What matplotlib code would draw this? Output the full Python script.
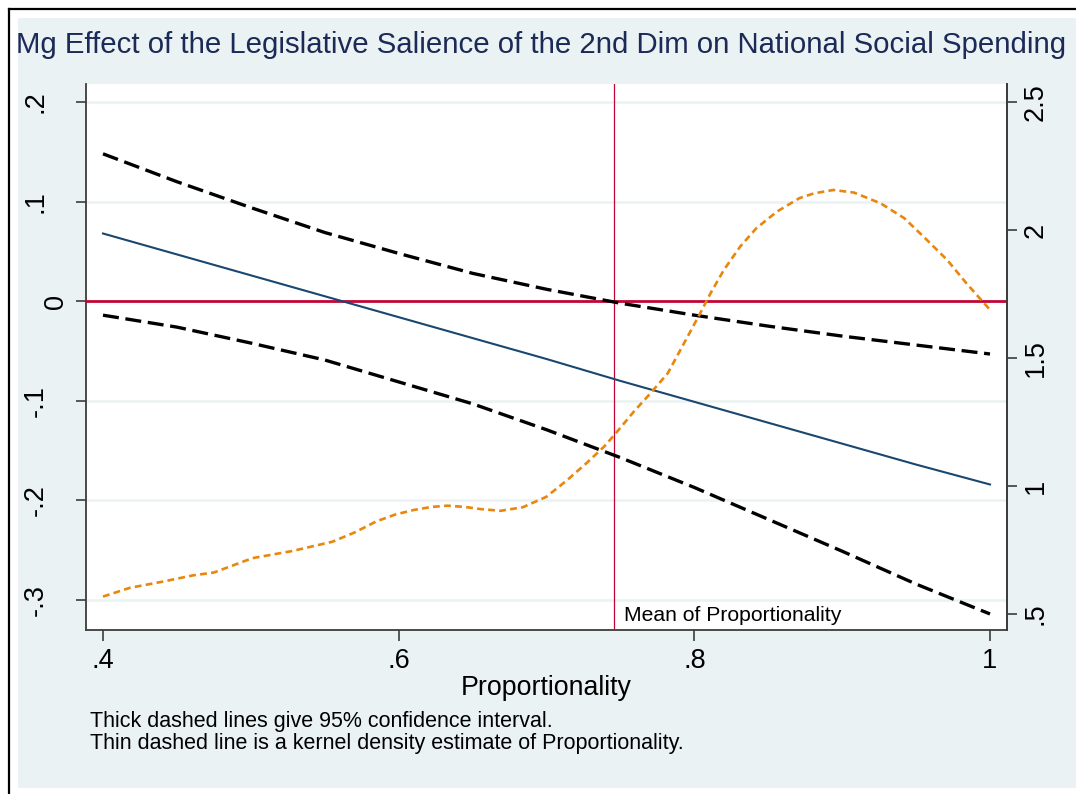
import matplotlib
matplotlib.use("Agg")
import matplotlib.pyplot as plt
import matplotlib.transforms as mtransforms
from matplotlib.patches import Rectangle
from matplotlib.lines import Line2D

plt.rcParams["font.family"] = ["Liberation Sans", "DejaVu Sans"]

# =========================
# DATA
# =========================
prop_grid = [0.40, 0.45, 0.50, 0.55, 0.60, 0.65, 0.70, 0.75, 0.80, 0.85, 0.90, 0.95, 1.00]
me_est = [0.068, 0.047, 0.026, 0.005, -0.016, -0.037, -0.058, -0.080, -0.101, -0.122, -0.143, -0.164, -0.184]
ci_upper = [0.148, 0.120, 0.094, 0.069, 0.048, 0.028, 0.012, -0.002, -0.014, -0.025, -0.035, -0.044, -0.053]
ci_lower = [-0.014, -0.026, -0.042, -0.059, -0.081, -0.103, -0.129, -0.157, -0.187, -0.219, -0.251, -0.284, -0.314]

kde_x = [0.400, 0.418, 0.440, 0.461, 0.475, 0.488, 0.501, 0.528, 0.555, 0.570, 0.585,
         0.598, 0.610, 0.622, 0.633, 0.645, 0.655, 0.669, 0.684, 0.700, 0.714, 0.727,
         0.739, 0.746, 0.759, 0.770, 0.782, 0.790, 0.797, 0.804, 0.811, 0.820, 0.831,
         0.842, 0.856, 0.871, 0.881, 0.894, 0.908, 0.926, 0.942, 0.955, 0.971, 0.984, 1.000]
kde_y = [0.568, 0.602, 0.626, 0.651, 0.662, 0.690, 0.718, 0.746, 0.782, 0.818, 0.862,
         0.889, 0.906, 0.918, 0.923, 0.918, 0.910, 0.903, 0.917, 0.958, 1.023, 1.089,
         1.154, 1.200, 1.290, 1.360, 1.440, 1.525, 1.600, 1.675, 1.753, 1.844, 1.935,
         2.007, 2.072, 2.124, 2.143, 2.156, 2.146, 2.104, 2.046, 1.974, 1.883, 1.792, 1.688]

prop_mean = 0.7457

left_ticks = [-0.3, -0.2, -0.1, 0, 0.1, 0.2]
left_labels = ["-.3", "-.2", "-.1", "0", ".1", ".2"]
right_ticks = [0.5, 1, 1.5, 2, 2.5]
right_labels = [".5", "1", "1.5", "2", "2.5"]
x_ticks = [0.4, 0.6, 0.8, 1.0]
x_labels = [".4", ".6", ".8", "1"]

# =========================
# THEME
# =========================
BG = "#eaf2f3"
NAVY = "#1a476f"
ORANGE = "#e8870e"
RED = "#c10534"
SPINE = "#3c3c3c"
TITLE = "#1b2a56"

fig = plt.figure(figsize=(10.76, 7.94), dpi=100)
fig.patch.set_facecolor("white")

# outer frame + light background
fig.add_artist(Rectangle((18 / 1076, 6 / 794), 1, (788 - 18) / 794,
                         transform=fig.transFigure, facecolor=BG, edgecolor="none", zorder=0))
fig.add_artist(Line2D([9 / 1076, 9 / 1076], [0, 1 - 9 / 794], transform=fig.transFigure,
                      color="black", lw=1.6, zorder=1))
fig.add_artist(Line2D([9 / 1076, 1], [1 - 9 / 794, 1 - 9 / 794], transform=fig.transFigure,
                      color="black", lw=1.6, zorder=1))

ax = fig.add_axes([86 / 1076, 164 / 794, 921 / 1076, 546 / 794])
ax.set_facecolor("white")
ax.set_xlim(0.3885, 1.0115)
ax.set_ylim(-0.3301, 0.2181)

# grid
for t in left_ticks:
    if t != 0:
        ax.axhline(t, color=BG, lw=1.8, zorder=1)

ax.axhline(0, color=RED, lw=2.0, zorder=3)
ax.axvline(prop_mean, color=RED, lw=0.9, zorder=3)

ax.plot(prop_grid, me_est, color=NAVY, lw=1.5, zorder=4)
ax.plot(prop_grid, ci_upper, color="black", lw=2.4, dashes=(4.8, 2.0), zorder=4)
ax.plot(prop_grid, ci_lower, color="black", lw=2.4, dashes=(4.8, 2.0), zorder=4)

ax.annotate("Mean of Proportionality", xy=(prop_mean, -0.3153), xytext=(7, 0),
            textcoords="offset points", fontsize=15.2, ha="left", va="center", zorder=5)

ax.set_xticks(x_ticks, x_labels)
ax.set_yticks(left_ticks, left_labels)
ax.tick_params(axis="x", length=8, width=1.2, color=SPINE, labelsize=19.5, pad=5)
ax.tick_params(axis="y", length=7.5, width=1.2, color=SPINE, labelsize=19.5, pad=29,
               labelrotation=90)
for lab in ax.get_yticklabels():
    lab.set_va("center")
    lab.set_ha("center")
ax.set_xlabel("Proportionality", fontsize=19.3, labelpad=1)

for side in ["left", "bottom", "right"]:
    ax.spines[side].set_color(SPINE)
    ax.spines[side].set_linewidth(1.3)
ax.spines["top"].set_visible(False)

# density on right axis
ax2 = ax.twinx()
ax2.set_ylim(0.4375, 2.570)
ax2.plot(kde_x, kde_y, color=ORANGE, lw=1.9, dashes=(2.6, 1.6), zorder=4)
ax2.set_yticks(right_ticks, right_labels)
ax2.tick_params(axis="y", length=7.5, width=1.2, color=SPINE, labelsize=19.5, pad=4,
                labelrotation=90)
for lab in ax2.get_yticklabels():
    lab.set_va("center")
for side in ["left", "bottom", "top"]:
    ax2.spines[side].set_visible(False)
ax2.spines["right"].set_color(SPINE)
ax2.spines["right"].set_linewidth(1.3)

# the "0" label sits further right in the original
fig.canvas.draw()
for tick in ax.yaxis.get_major_ticks():
    if tick.label1.get_text() == "0":
        tick.label1.set_transform(tick.label1.get_transform()
                                  + mtransforms.ScaledTranslation(0.21, 0, fig.dpi_scale_trans))

fig.text(0.503, 1 - 45 / 794, "Mg Effect of the Legislative Salience of the 2nd Dim on National Social Spending",
         fontsize=21.2, color=TITLE, ha="center", va="center")
fig.text(90 / 1076, 1 - 722 / 794, "Thick dashed lines give 95% confidence interval.",
         fontsize=15.5, ha="left", va="center")
fig.text(90 / 1076, 1 - 743 / 794, "Thin dashed line is a kernel density estimate of Proportionality.",
         fontsize=15.5, ha="left", va="center")

fig.savefig("out.png", dpi=100, facecolor="white")
